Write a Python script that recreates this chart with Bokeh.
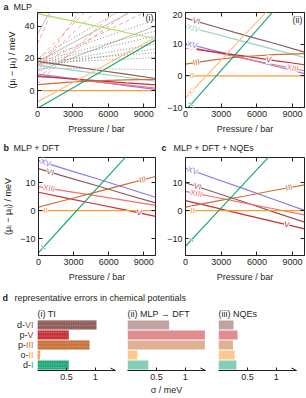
import numpy as np
from bokeh.plotting import figure
from bokeh.layouts import row, column
from bokeh.models import (Range1d, FixedTicker, LinearAxis, Label, LabelSet,
                          ColumnDataSource, Arrow, OpenHead, NumeralTickFormatter)
from bokeh.core.properties import field, value
from bokeh.embed import file_html
from bokeh.resources import INLINE

FONT = "Liberation Sans"
INK = "#231f20"

# ---------------- data ----------------
pressure = [0, 2500, 5000, 7500, 10000]          # bar
pressure_ticks = [0, 3000, 6000, 9000]

# panel a: MLP, (mu_i - mu_II) / meV
mlp_I    = [-11.0, -0.4, 10.2, 20.9, 31.5]
mlp_XI   = [-7.0, 3.0, 13.0, 23.0, 33.0]
mlp_II   = [0.0, 0.0, 0.0, 0.0, 0.0]
mlp_III  = [3.7, 5.1, 6.1, 6.7, 7.0]
mlp_V    = [8.8, 7.5, 6.2, 4.8, 3.5]
mlp_VI   = [18.2, 15.5, 12.8, 10.2, 7.5]
mlp_XIII = [9.3, 7.4, 5.4, 3.5, 1.6]
mlp_XIV  = [15.6, 13.2, 10.7, 8.3, 5.8]
mlp_XV   = [10.3, 7.9, 5.5, 3.1, 0.7]
mlp_other_green = [47.8, 43.9, 40.0, 36.1, 32.2]
# other (unlabelled) structures in a(i): values at 0 bar and 10000 bar
mlp_dashed_start = [29, 19, 4.5, 12, 15, 8, 16]
mlp_dashed_end   = [195, 93, 72, 116, 84, 61, 52]
mlp_dotted_start = [19, 18, 17, 16, 15, 18, 17, 14, 20]
mlp_dotted_end   = [44, 37, 34, 29, 26, 23.5, 20.5, 13, 62]
mlp_thin_start   = [35, 18, 12]
mlp_thin_end     = [170, 57, 40]

# panel b: MLP + DFT
dft_I    = [-15.0, -3.5, 8.0, 19.4, 30.9]
dft_II   = [0.0, 0.0, 0.0, 0.0, 0.0]
dft_III  = [1.25, 4.0, 6.7, 9.5, 12.2]
dft_V    = [6.6, 4.4, 2.3, 0.2, -2.0]
dft_VI   = [15.0, 11.9, 8.9, 5.8, 2.8]
dft_XIII = [8.6, 6.9, 5.3, 3.6, 1.9]
dft_XV   = [17.9, 14.6, 11.4, 8.1, 4.8]

# panel c: MLP + DFT + NQEs
nqe_I    = [-12.7, -1.3, 10.1, 21.5, 32.9]
nqe_II   = [0.0, 0.0, 0.0, 0.0, 0.0]
nqe_III  = [1.25, 3.3, 5.25, 7.3, 9.25]
nqe_V    = [3.6, 1.1, -1.5, -4.0, -6.5]
nqe_VI   = [10.0, 6.5, 3.0, -0.6, -4.1]
nqe_XIII = [6.9, 4.8, 2.7, 0.6, -1.5]
nqe_XV   = [15.2, 11.4, 7.7, 3.9, 0.1]

# panel d: representative errors sigma / meV
err_prefix = ["d-", "p-", "p-", "o-", "d-"]
err_phase  = ["VI", "V", "III", "II", "I"]
err_TI  = [1.02, 0.54, 0.90, 0.04, 0.54]
err_DFT = [0.72, 1.34, 1.34, 0.17, 0.36]
err_NQE = [0.26, 0.33, 0.25, 0.28, 0.31]

# ---------------- styles ----------------
COL = {"I": "#1faa78", "II": "#fb9a33", "III": "#c7703a", "V": "#c62f35",
       "VI": "#8e5a55", "XI": "#fdc088", "XIII": "#f06f74", "XIV": "#8fd5c5",
       "XV": "#8c7ae6"}
GREEN2 = "#aedc62"

a_series = {"I": mlp_I, "XI": mlp_XI, "II": mlp_II, "III": mlp_III, "V": mlp_V,
            "VI": mlp_VI, "XIII": mlp_XIII, "XIV": mlp_XIV, "XV": mlp_XV}
b_series = {"I": dft_I, "II": dft_II, "III": dft_III, "V": dft_V, "VI": dft_VI,
            "XIII": dft_XIII, "XV": dft_XV}
c_series = {"I": nqe_I, "II": nqe_II, "III": nqe_III, "V": nqe_V, "VI": nqe_VI,
            "XIII": nqe_XIII, "XV": nqe_XV}


def base_fig(width, height, left, right, top, bottom, xr, yr, title=None):
    p = figure(width=width, height=height, x_range=Range1d(*xr), y_range=Range1d(*yr),
               min_border_left=left, min_border_right=right,
               min_border_top=top, min_border_bottom=bottom,
               output_backend="svg", toolbar_location=None, title=title)
    p.xgrid.visible = False
    p.ygrid.visible = False
    p.outline_line_color = INK
    p.outline_line_width = 1
    p.background_fill_color = "white"
    p.border_fill_color = "white"
    return p


def bare_fig(width, height, xr, yr, top=0, bottom=0):
    p = figure(width=width, height=height, x_range=Range1d(*xr), y_range=Range1d(*yr),
               min_border_left=0, min_border_right=0, min_border_top=top,
               min_border_bottom=bottom, x_axis_type=None, y_axis_type=None,
               output_backend="svg", toolbar_location=None, title=None)
    p.outline_line_color = None
    p.background_fill_color = "white"
    p.border_fill_color = "white"
    return p


def style_axis(ax, ticks, label=None, overrides=None, tick_in=4):
    ax.ticker = FixedTicker(ticks=ticks)
    ax.major_tick_in = tick_in
    ax.major_tick_out = 0
    ax.minor_tick_line_color = None
    ax.axis_line_color = INK
    ax.major_tick_line_color = INK
    ax.major_label_text_font = FONT
    ax.major_label_text_font_size = "9px"
    ax.major_label_text_color = INK
    ax.major_label_standoff = 3
    if overrides:
        ax.major_label_overrides = overrides
    if label:
        ax.axis_label = label
        ax.axis_label_text_font = FONT
        ax.axis_label_text_font_size = "9px"
        ax.axis_label_text_font_style = "normal"
        ax.axis_label_text_color = INK
        ax.axis_label_standoff = 4


def mirror(p, xticks, yticks):
    # inward ticks on the top and right edges of the frame, no labels
    for side, ticks in (("above", xticks), ("right", yticks)):
        ax = LinearAxis(ticker=FixedTicker(ticks=ticks))
        ax.major_label_text_font_size = "1px"
        ax.major_label_text_color = None
        ax.major_label_text_alpha = 0
        ax.major_label_standoff = 0
        ax.major_tick_in = 4
        ax.major_tick_out = 0
        ax.minor_tick_line_color = None
        ax.axis_line_color = None
        ax.major_tick_line_color = INK
        p.add_layout(ax, side)


def draw_series(p, series, names, width=1.2):
    for n in names:
        p.line(pressure, series[n], line_color=COL[n], line_width=width)


def line_labels(p, series, names, positions, fw, fh, yspan):
    xs, ys, cols, angs = [], [], [], []
    for n, P in zip(names, positions):
        vals = series[n]
        y = float(np.interp(P, pressure, vals))
        slope = (np.interp(P + 100, pressure, vals) - np.interp(P - 100, pressure, vals)) / 200.0
        ang = float(np.arctan(slope * (fh / yspan) / (fw / 10000.0)))
        xs.append(P); ys.append(y); cols.append(COL[n]); angs.append(ang)
    src = ColumnDataSource(dict(x=xs, y=ys, text=list(names), color=cols, angle=angs))
    p.add_layout(LabelSet(x="x", y="y", text="text", source=src,
                          text_color=field("color"), angle=field("angle"),
                          text_font=value(FONT), text_font_size=value("8px"),
                          text_align="center", text_baseline="middle",
                          background_fill_color="white"))


def strip_label(p, x, y, text, bold=False):
    p.add_layout(Label(x=x, y=y, text=text, text_font=FONT, text_font_size="9px",
                       text_font_style="bold" if bold else "normal",
                       text_baseline="middle", text_color=INK))


def corner_tag(p, x, y, text):
    p.add_layout(Label(x=x, y=y, text=text, text_font=FONT, text_font_size="9px",
                       text_align="right", text_baseline="middle", text_color=INK,
                       background_fill_color="white"))


YLABEL = "(μᵢ − μᵢᵢ) / meV"
XLABEL = "Pressure / bar"
MINUS = {-10: "−10"}

# ---------------- heading a ----------------
sa = bare_fig(306, 11, (0, 306), (0, 11))
strip_label(sa, 3, 5.5, "a", True)
strip_label(sa, 13, 5.5, "MLP")

# ---------------- panel a(i) ----------------
fa1 = base_fig(164, 130, 37, 9, 1, 34, (0, 10000), (-10.5, 48.5))
style_axis(fa1.xaxis[0], pressure_ticks, XLABEL)
style_axis(fa1.yaxis[0], [0, 20, 40], YLABEL)
mirror(fa1, pressure_ticks, [0, 20, 40])
ends = [pressure[0], pressure[-1]]
fa1.multi_line([ends] * len(mlp_dotted_start),
               [[s, e] for s, e in zip(mlp_dotted_start, mlp_dotted_end)],
               line_color="#6d6d6d", line_width=0.8, line_dash="1 2")
fa1.multi_line([ends] * len(mlp_thin_start),
               [[s, e] for s, e in zip(mlp_thin_start, mlp_thin_end)],
               line_color="#8a8a8a", line_width=0.6)
fa1.multi_line([ends] * len(mlp_dashed_start),
               [[s, e] for s, e in zip(mlp_dashed_start, mlp_dashed_end)],
               line_color="#f5a3a3", line_width=1.0, line_dash="4 3")
fa1.line(pressure, mlp_other_green, line_color=GREEN2, line_width=1.2)
draw_series(fa1, a_series, ["XIV", "VI", "XV", "XIII", "V", "III", "II", "XI", "I"])
corner_tag(fa1, 9830, 45.3, "(i)")

# ---------------- panel a(ii) ----------------
fa2 = base_fig(142, 130, 21, 2, 1, 34, (0, 10000), (-10, 20))
style_axis(fa2.xaxis[0], pressure_ticks, XLABEL)
style_axis(fa2.yaxis[0], [-10, 0, 10, 20], None, MINUS)
mirror(fa2, pressure_ticks, [-10, 0, 10, 20])
draw_series(fa2, a_series, ["XIV", "VI", "XV", "XIII", "V", "III", "II", "XI", "I"])
line_labels(fa2, a_series, ["I", "XI", "II", "III", "XV", "XIV", "VI", "V", "XIII"],
            [450, 500, 550, 900, 550, 650, 900, 7000, 9000], 119, 95, 30)
corner_tag(fa2, 9830, 17.6, "(ii)")

# ---------------- headings b, c ----------------
sbc = bare_fig(306, 12, (0, 306), (0, 12))
strip_label(sbc, 3, 6, "b", True)
strip_label(sbc, 13, 6, "MLP + DFT")
strip_label(sbc, 161, 6, "c", True)
strip_label(sbc, 173, 6, "MLP + DFT + NQEs")

# ---------------- panel b ----------------
fb = base_fig(164, 135, 37, 9, 4, 33, (0, 10000), (-16, 19))
style_axis(fb.xaxis[0], pressure_ticks, XLABEL)
style_axis(fb.yaxis[0], [-10, 0, 10], YLABEL, MINUS)
mirror(fb, pressure_ticks, [-10, 0, 10])
draw_series(fb, b_series, ["XV", "VI", "XIII", "V", "III", "II", "I"])
line_labels(fb, b_series, ["XV", "VI", "XIII", "II", "I", "III", "V"],
            [600, 1000, 900, 600, 400, 8900, 8600], 118, 98, 35)

# ---------------- panel c ----------------
fc = base_fig(142, 135, 21, 2, 4, 33, (0, 10000), (-16, 19))
style_axis(fc.xaxis[0], pressure_ticks, XLABEL)
style_axis(fc.yaxis[0], [-10, 0, 10], None, MINUS)
mirror(fc, pressure_ticks, [-10, 0, 10])
draw_series(fc, c_series, ["XV", "VI", "XIII", "V", "III", "II", "I"])
line_labels(fc, c_series, ["XV", "VI", "XIII", "II", "I", "III", "V"],
            [600, 1000, 900, 600, 500, 8700, 8500], 119, 98, 35)

# ---------------- heading d ----------------
sd = bare_fig(306, 17, (0, 306), (0, 17))
strip_label(sd, 2, 8, "d", True)
strip_label(sd, 14, 8, "representative errors in chemical potentials")

# ---------------- panel d bars ----------------
ypos = list(range(len(err_phase)))[::-1]
bar_cols = [COL[n] for n in err_phase]
XMAX = 1.35
YR = (-0.55, 4.55)


def err_fig(width, left, right, title, vals, hatched, xlabel=None):
    p = base_fig(width, 93, left, right, 14, 28, (0, XMAX), YR, title=title)
    p.outline_line_color = None
    p.title.text_font = FONT
    p.title.text_font_size = "9px"
    p.title.text_font_style = "normal"
    p.title.text_color = INK
    p.title.align = "left"
    p.title.standoff = 2
    p.yaxis.visible = False
    style_axis(p.xaxis[0], [0.5, 1], xlabel, tick_in=3)
    p.xaxis[0].formatter = NumeralTickFormatter(format="0.[0]")
    p.xaxis[0].axis_label_standoff = 2
    if hatched:
        p.hbar(y=ypos, left=0, right=vals, height=0.88, fill_color=bar_cols,
               fill_alpha=0.45, line_color=None, hatch_pattern="\\",
               hatch_color=bar_cols, hatch_weight=1.5, hatch_scale=3.5)
    else:
        p.hbar(y=ypos, left=0, right=vals, height=0.88, fill_color=bar_cols,
               fill_alpha=0.55, line_color=None)
    p.add_layout(Arrow(end=OpenHead(size=5, line_width=1, line_color=INK),
                       x_start=0, y_start=YR[0], x_end=XMAX, y_end=YR[0],
                       line_color=INK, line_width=1))
    return p


# category labels (own narrow panel sharing the bar rows)
fdl = bare_fig(37, 93, (0, 37), YR, top=14, bottom=28)
CHAR_W = {"I": 0.278, "V": 0.667}
num_w = [sum(CHAR_W[c] for c in n) * 9 for n in err_phase]
fdl.text(x=[33] * len(ypos), y=ypos, text=err_phase, text_color=bar_cols,
         text_font=value(FONT), text_font_size=value("9px"),
         text_align="right", text_baseline="middle")
fdl.text(x=[33] * len(ypos), y=ypos, text=err_prefix, x_offset=[-w for w in num_w],
         text_color=INK, text_font=value(FONT), text_font_size=value("9px"),
         text_align="right", text_baseline="middle")

fd1 = err_fig(84, 0, 6, "(i) TI", err_TI, True)
fd2 = err_fig(90, 6, 6, "(ii) MLP → DFT", err_DFT, False, "σ / meV")
fd3 = err_fig(95, 7, 10, "(iii) NQEs", err_NQE, False)

layout = column(sa, row(fa1, fa2), sbc, row(fb, fc), sd, row(fdl, fd1, fd2, fd3))

open("out.html", "w").write(file_html(layout, INLINE))
